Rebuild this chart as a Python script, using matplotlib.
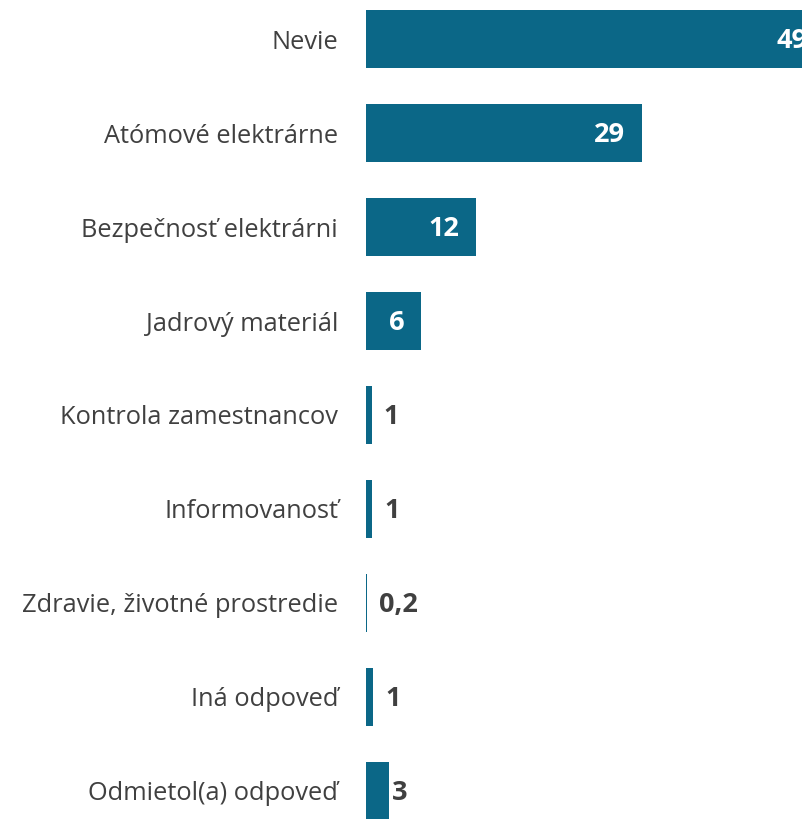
import matplotlib.pyplot as plt
from matplotlib.transforms import offset_copy

# Data
kategorie = ['Nevie', 'Atómové elektrárne', 'Bezpečnosť elektrárni',
             'Jadrový materiál', 'Kontrola zamestnancov', 'Informovanosť',
             'Zdravie, životné prostredie', 'Iná odpoveď', 'Odmietol(a) odpoveď']
hodnoty = [49, 29.5, 11.8, 5.9, 0.6, 0.65, 0.15, 0.75, 2.5]
popisky = ['49', '29', '12', '6', '1', '1', '0,2', '1', '3']

farba = '#0b6787'
seda = '#404040'
plt.rcParams['font.family'] = ['Open Sans', 'DejaVu Sans']

fig = plt.figure(figsize=(8.02, 8.19), dpi=100)
ax = fig.add_axes([366 / 802, 0, 436 / 802, 1])

y = list(range(len(kategorie)))
ax.barh(y, hodnoty, height=0.617, color=farba)

ax.set_xlim(0, 46.6)
ax.set_ylim(8.298, -0.415)

for i, (v, txt) in enumerate(zip(hodnoty, popisky)):
    if v > 4:
        tr = offset_copy(ax.transData, fig=fig, x=-17, y=-2, units='dots')
        ax.text(v, i, txt, transform=tr, ha='right', va='center',
                color='white', fontsize=19.5, fontweight='bold', clip_on=False)
    else:
        tr = offset_copy(ax.transData, fig=fig, x=12 if v < 2 else 3, y=-2, units='dots')
        ax.text(v, i, txt, transform=tr, ha='left', va='center',
                color=seda, fontsize=19.5, fontweight='bold')

ax.set_yticks(y)
ax.set_yticklabels(kategorie, fontsize=18.3, color=seda)
ax.tick_params(axis='y', length=0, pad=20)
ax.set_xticks([])
for s in ax.spines.values():
    s.set_visible(False)

fig.savefig('out.png', dpi=100)
